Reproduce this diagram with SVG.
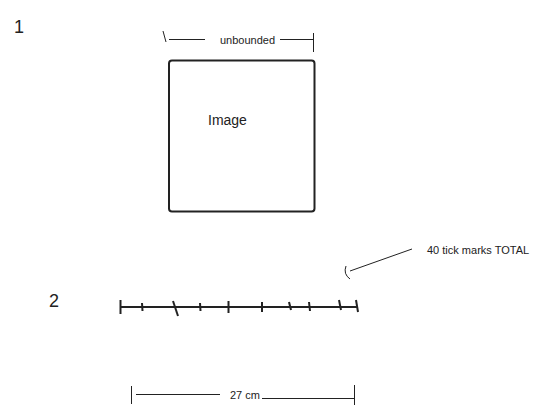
<svg xmlns="http://www.w3.org/2000/svg" width="542" height="417" viewBox="0 0 542 417">
<style>
.t{font-family:"Liberation Sans",Arial,sans-serif;fill:#222}
.s{stroke:#222;stroke-width:1;fill:none}
.b{stroke:#222;stroke-width:2;fill:none}
</style>
<rect width="542" height="417" fill="#fff"/>
<text class="t" x="14" y="33" font-size="18">1</text>
<text class="t" x="49" y="307" font-size="18">2</text>
<g id="image-node">
<rect x="169" y="60.5" width="145.5" height="151" rx="3" ry="3" class="b"/>
<text class="t" x="208" y="125" font-size="14">Image</text>
</g>
<g id="unbounded-dim">
<line x1="163" y1="31" x2="166" y2="42" class="s"/>
<line x1="169" y1="39.5" x2="205" y2="39.5" class="s"/>
<text class="t" x="220" y="44" font-size="11">unbounded</text>
<line x1="280" y1="39.5" x2="313" y2="39.5" class="s"/>
<line x1="313.5" y1="33" x2="313.5" y2="52" class="s"/>
</g>
<g id="ruler">
<line x1="120" y1="307" x2="358" y2="307" class="b"/>
<line x1="120.5" y1="300" x2="120.5" y2="314" class="b"/>
<line x1="142" y1="303" x2="142.5" y2="311" class="b"/>
<line x1="173" y1="301" x2="178" y2="316" class="b"/>
<line x1="200" y1="303" x2="200.5" y2="311" class="b"/>
<line x1="228.5" y1="301" x2="228.5" y2="313" class="b"/>
<line x1="262" y1="302" x2="262" y2="312" class="b"/>
<line x1="289" y1="302" x2="291" y2="310" class="b"/>
<line x1="309" y1="302" x2="310" y2="311" class="b"/>
<line x1="339" y1="300" x2="341" y2="310" class="b"/>
<line x1="356" y1="300" x2="358" y2="312" class="b"/>
</g>
<g id="connectors">
<line x1="350" y1="271" x2="412" y2="249" class="s"/>
<path d="M346 266 Q343 274 350 279" class="s"/>
</g>
<g id="note">
<text class="t" x="427" y="254" font-size="11">40 tick marks TOTAL</text>
</g>
<g id="width-dim">
<line x1="131.5" y1="386" x2="131.5" y2="404" class="s"/>
<line x1="136" y1="394.5" x2="220" y2="394.5" class="s"/>
<text class="t" x="230" y="399" font-size="11">27 cm</text>
<line x1="262" y1="398.5" x2="355" y2="398.5" class="s"/>
<line x1="354.5" y1="385" x2="354.5" y2="405" class="s"/>
</g>
</svg>
